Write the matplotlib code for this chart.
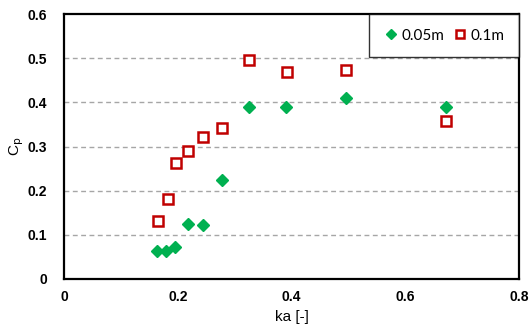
import matplotlib
matplotlib.use("Agg")
import matplotlib.pyplot as plt

# Power coefficient vs. ka for two buoy sizes
ka_005 = [0.164, 0.180, 0.196, 0.2175, 0.244, 0.277, 0.325, 0.391, 0.496, 0.671]
cp_005 = [0.063, 0.063, 0.072, 0.125, 0.122, 0.224, 0.390, 0.390, 0.410, 0.390]

ka_01 = [0.166, 0.182, 0.197, 0.218, 0.244, 0.278, 0.326, 0.392, 0.496, 0.672]
cp_01 = [0.131, 0.181, 0.262, 0.290, 0.322, 0.343, 0.495, 0.469, 0.473, 0.358]

labels = ["0.05m", "0.1m"]
xticks = [0, 0.2, 0.4, 0.6, 0.8]
yticks = [0, 0.1, 0.2, 0.3, 0.4, 0.5, 0.6]

fig = plt.figure(figsize=(5.30, 3.34), dpi=100)
ax = fig.add_axes([64 / 530, 55 / 334, 455 / 530, 265 / 334])

ax.plot(ka_005, cp_005, linestyle="none", marker="D", markersize=6.5,
        color="#00B050", markeredgecolor="#00B050", label=labels[0], zorder=3)
ax.plot(ka_01, cp_01, linestyle="none", marker="s", markersize=7,
        markerfacecolor="white", markeredgecolor="#C00000", markeredgewidth=1.8,
        label=labels[1], zorder=3)

ax.set_xlim(0, 0.8)
ax.set_ylim(0, 0.6)
ax.set_xticks(xticks)
ax.set_yticks(yticks)
ax.set_xticklabels(["0", "0.2", "0.4", "0.6", "0.8"])
ax.set_yticklabels(["0", "0.1", "0.2", "0.3", "0.4", "0.5", "0.6"])
for lab in ax.get_xticklabels() + ax.get_yticklabels():
    lab.set_fontfamily("Liberation Sans")
    lab.set_fontweight("bold")
    lab.set_fontsize(10)
ax.tick_params(axis="both", length=0, pad=8)
ax.tick_params(axis="y", pad=12)

for y in yticks[1:-1]:
    ax.axhline(y, color="#A6A6A6", linestyle=(0, (3.5, 2.5)), linewidth=1.0, zorder=1)

for s in ax.spines.values():
    s.set_color("black")
    s.set_linewidth(1.6)

ax.set_xlabel("ka [-]", fontfamily="Liberation Sans", fontsize=11, labelpad=4)
ax.set_ylabel(r"C$_\mathrm{p}$", fontfamily="Liberation Sans", fontsize=11, labelpad=1)

leg = ax.legend(loc="upper right", ncol=2, frameon=True, fancybox=False,
                borderaxespad=0, handletextpad=0.2, columnspacing=0.5,
                handlelength=1.0, borderpad=0.95, markerscale=0.85,
                prop={"family": "Lato", "size": 11})
leg.get_frame().set_edgecolor("black")
leg.get_frame().set_linewidth(1.0)

fig.savefig("out.png", dpi=100)
